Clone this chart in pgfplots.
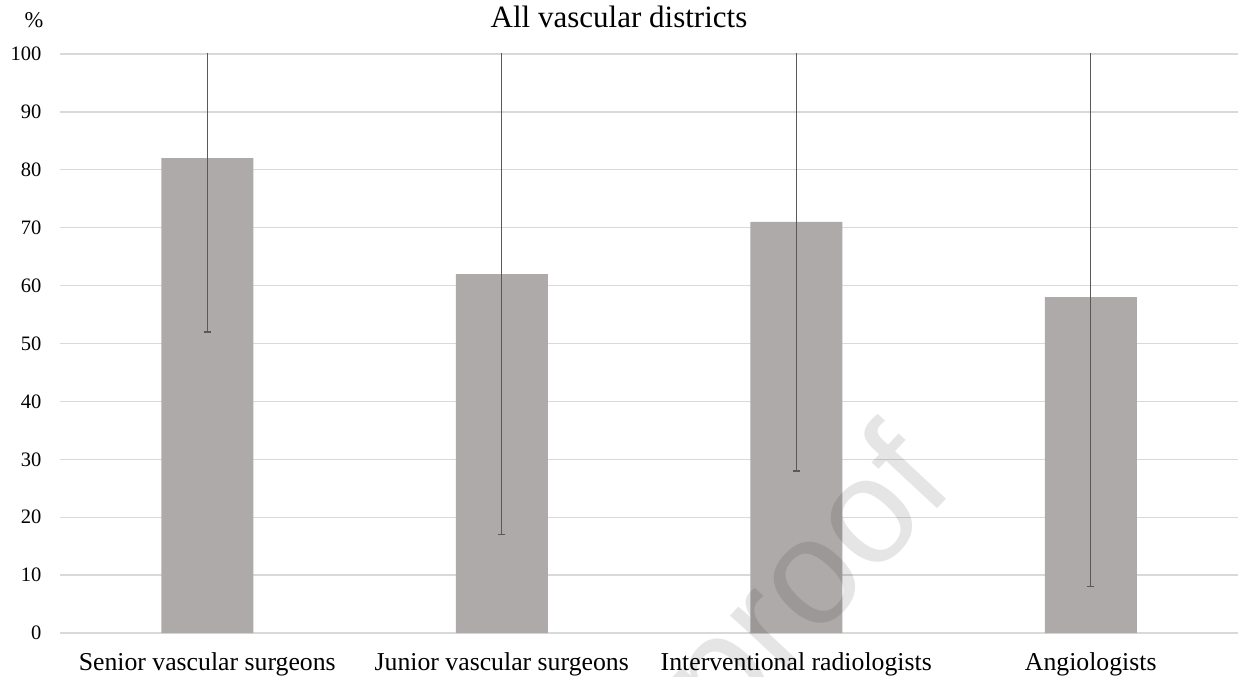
\documentclass[border=0pt]{standalone}
\usepackage{pgfplots}
\pgfplotsset{compat=1.18}
\usepackage{fontspec}
\setmainfont{Liberation Serif}
\newfontfamily\wmfont{Liberation Sans}
\definecolor{barfill}{HTML}{AEAAA9}
\definecolor{gridc}{HTML}{D9D9D9}
\definecolor{errc}{HTML}{595959}
\begin{document}
\begin{tikzpicture}
\begin{axis}[
  scale only axis, width=471.2pt, height=231.6pt,
  xmin=-0.5, xmax=3.5, ymin=0, ymax=100,
  ytick={0,10,...,100},
  xtick={0,1,2,3},
  xticklabels={Senior vascular surgeons, Junior vascular surgeons, Interventional radiologists, Angiologists},
  axis line style={draw=none},
  tick style={draw=none}, major tick length=0pt,
  ymajorgrids, grid style={gridc, line width=0.5pt},
  /pgf/number format/assume math mode=true,
  yticklabel style={font=\fontsize{8.2}{9}\selectfont, anchor=east, inner sep=0pt, xshift=-7.2pt},
  xticklabel style={font=\fontsize{10.3}{12}\selectfont, anchor=base, inner sep=0pt, yshift=-14.8pt},
  ybar, bar width=36.8pt,
]
\addplot[fill=barfill, draw=none,
  error bars/.cd, y dir=both, y explicit,
  error bar style={errc, line width=0.5pt},
  error mark options={rotate=90, errc, mark size=1.4pt, line width=0.5pt}]
  coordinates {(0,82) +- (0,30) (1,62) +- (0,45) (2,71) +- (0,43) (3,58) +- (0,50)};
\end{axis}
\node[font=\fontsize{12.4}{14}\selectfont, anchor=base] at ([xshift=223.6pt,yshift=10.4pt]current axis.north west) {All vascular districts};
\node[font=\fontsize{9}{10}\selectfont, anchor=base] at ([xshift=-10.4pt,yshift=10.4pt]current axis.north west) {\%};
\node[font=\wmfont\fontsize{60}{70}\selectfont, text=black, opacity=0.1, rotate=47] at ([xshift=301pt,yshift=18.5pt]current axis.south west) {proof};
\pgfresetboundingbox
\path ([xshift=-24pt,yshift=-17.2pt]current axis.south west) rectangle ([xshift=1.2pt,yshift=21.6pt]current axis.north east);
\end{tikzpicture}
\end{document}
